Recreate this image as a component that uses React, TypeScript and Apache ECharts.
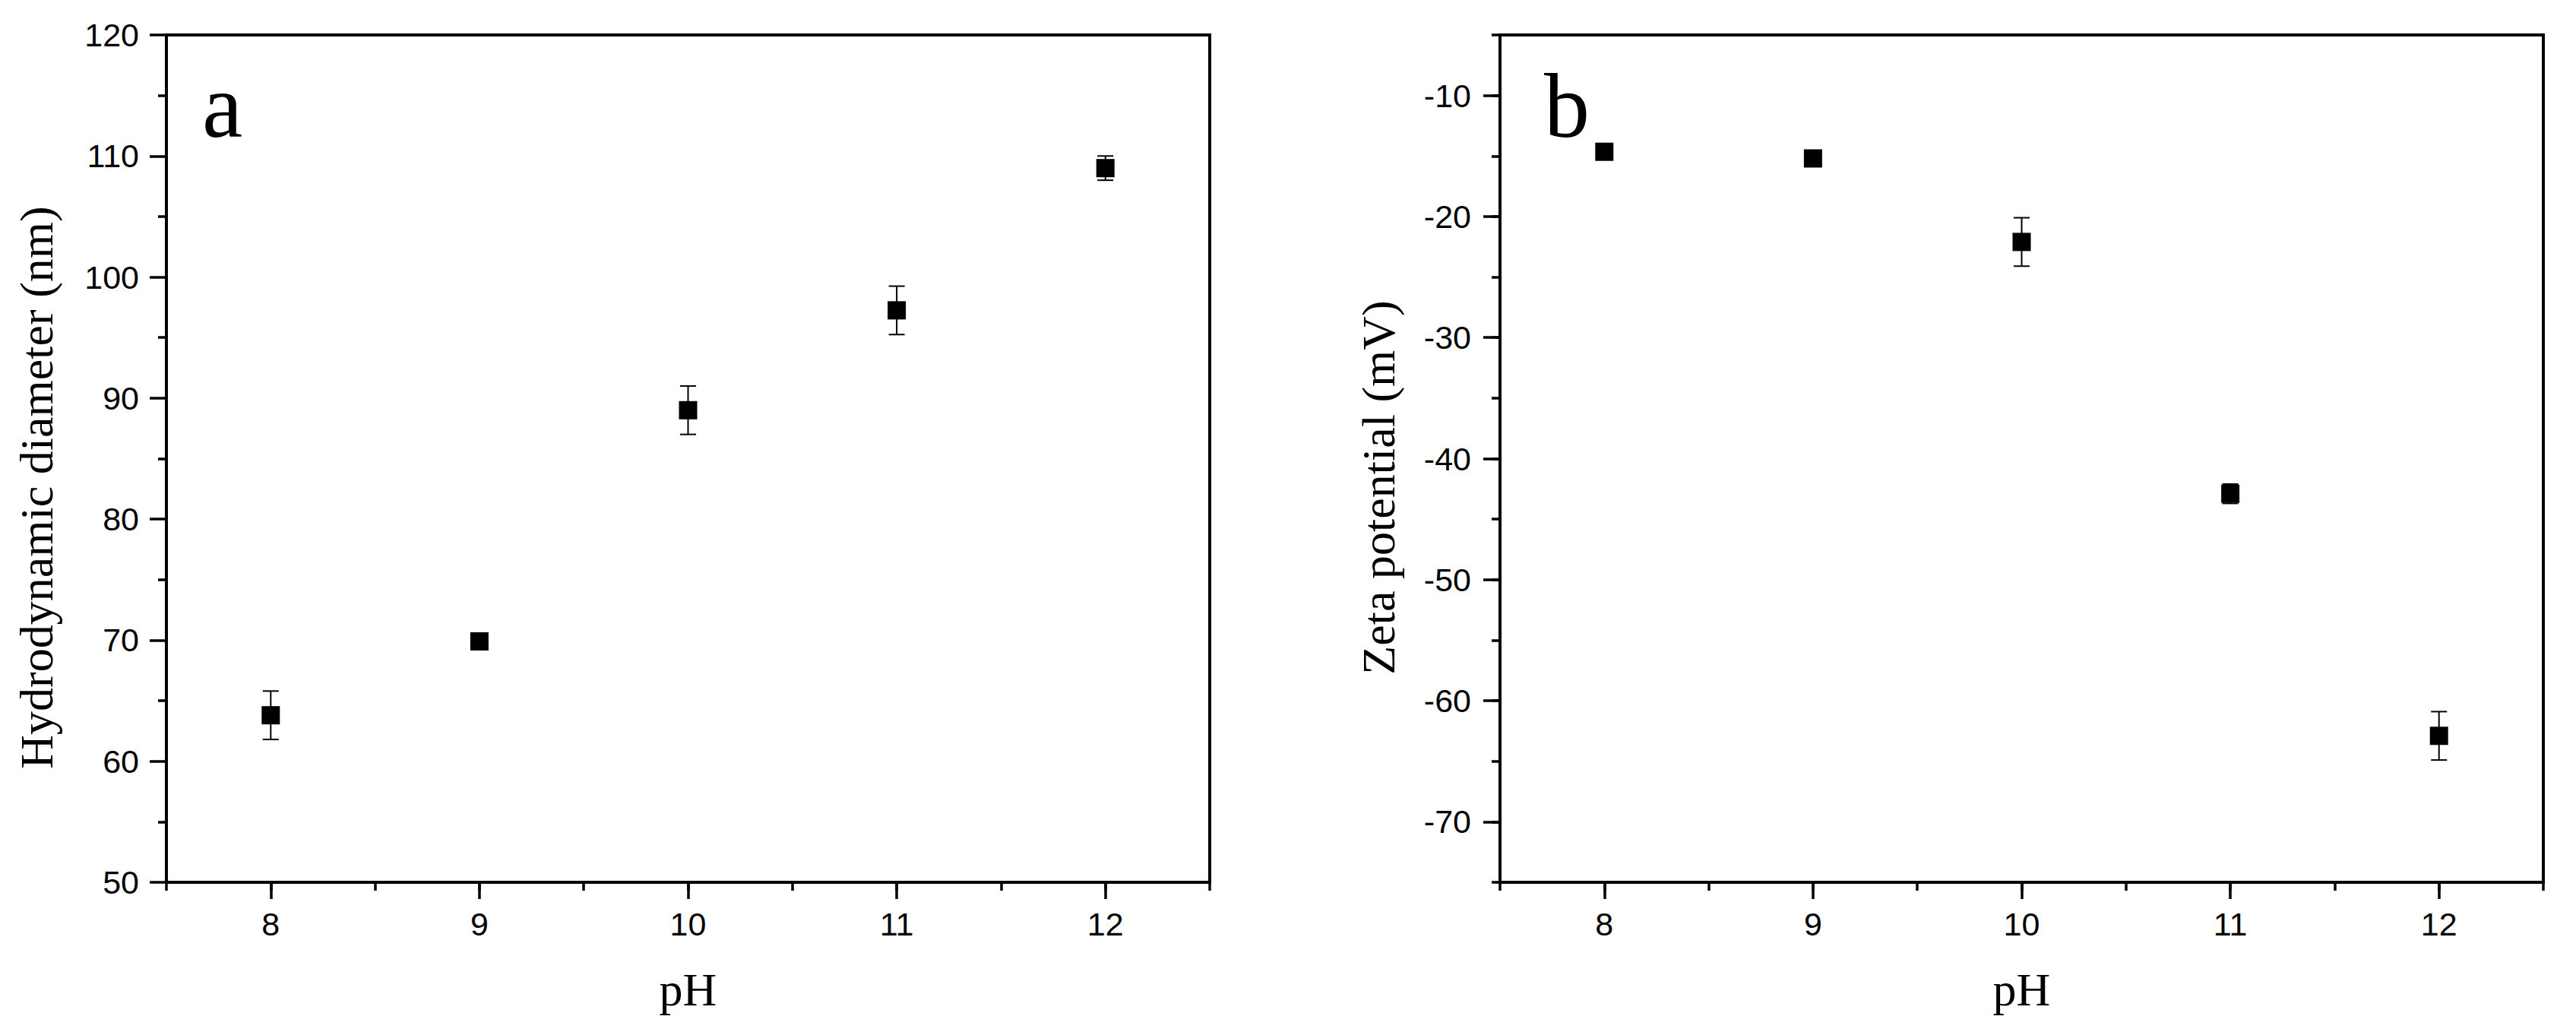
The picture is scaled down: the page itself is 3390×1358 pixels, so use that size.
import React, { useEffect, useRef } from 'react';
import * as echarts from 'echarts';

// ---- data ----
const pH = [8, 9, 10, 11, 12];
const diameter = [63.8, 69.9, 89.0, 97.25, 109.0];
const diameterErr = [2.0, 0.4, 2.0, 2.0, 1.0];
const zeta = [-14.65, -15.2, -22.1, -42.9, -62.9];
const zetaErr = [0.3, 0.3, 2.0, 0.8, 2.0];

const xTitle = 'pH';
const yTitleA = 'Hydrodynamic diameter (nm)';
const yTitleB = 'Zeta potential (mV)';
const panelLabels = ['a', 'b'];

// ---- layout ----
const W = 3390;
const H = 1358;
const LEFT_A = 219;
const LEFT_B = 1974;
const GW = 1373;
const TOP = 46;
const GH = 1115;
const X_MIN = 7.5;
const X_MAX = 12.5;
const UNIT_X = GW / (X_MAX - X_MIN);
const YB_MIN = -75;
const YB_MAX = -5;
const UNIT_YB = GH / (YB_MAX - YB_MIN);

const SANS = "'Liberation Sans', Arial, sans-serif";
const SERIF = "'Liberation Serif', 'Times New Roman', serif";
const BLACK = '#000';

const axisLineStyle = { show: true, onZero: false, lineStyle: { color: BLACK, width: 4 } };
const tickLabel = { fontFamily: SANS, fontSize: 43, color: BLACK };

function errorRender(params: any, api: any) {
  const x = api.value(0);
  const lo = api.value(1);
  const hi = api.value(2);
  const p1 = api.coord([x, lo]);
  const p2 = api.coord([x, hi]);
  const hw = 10.5;
  const style = { stroke: BLACK, lineWidth: 2, fill: null };
  return {
    type: 'group',
    children: [
      { type: 'line', shape: { x1: p1[0], y1: p1[1], x2: p2[0], y2: p2[1] }, style },
      { type: 'line', shape: { x1: p1[0] - hw, y1: p1[1], x2: p1[0] + hw, y2: p1[1] }, style },
      { type: 'line', shape: { x1: p2[0] - hw, y1: p2[1], x2: p2[0] + hw, y2: p2[1] }, style },
    ],
  };
}

export default function App() {
  const ref = useRef<HTMLDivElement>(null);
  useEffect(() => {
    if (!ref.current) return;
    const chart = echarts.init(ref.current, undefined, { renderer: 'svg', width: W, height: H });

    const grids = [
      // 0: left main
      { left: LEFT_A, top: TOP, width: GW, height: GH, show: true, borderColor: BLACK, borderWidth: 4, backgroundColor: 'transparent' },
      // 1: left x-major overlay
      { left: LEFT_A + UNIT_X * 0.5, top: TOP, width: GW - UNIT_X, height: GH },
      // 2: right main
      { left: LEFT_B, top: TOP, width: GW, height: GH, show: true, borderColor: BLACK, borderWidth: 4, backgroundColor: 'transparent' },
      // 3: right x-major overlay
      { left: LEFT_B + UNIT_X * 0.5, top: TOP, width: GW - UNIT_X, height: GH },
      // 4: right y-major overlay
      { left: LEFT_B, top: TOP + UNIT_YB * 5, width: GW, height: GH - UNIT_YB * 10 },
    ];

    const mainX = (gridIndex: number) => ({
      type: 'value', gridIndex, min: X_MIN, max: X_MAX, interval: 0.5,
      axisLine: axisLineStyle,
      axisTick: { show: true, length: 11, lineStyle: { color: BLACK, width: 3.5 } },
      axisLabel: { show: false },
      splitLine: { show: false },
    });
    const majorX = (gridIndex: number) => ({
      type: 'value', gridIndex, min: 8, max: 12, interval: 1,
      axisLine: { show: false },
      axisTick: { show: true, length: 22, lineStyle: { color: BLACK, width: 3.5 } },
      axisLabel: { ...tickLabel, margin: 33 },
      splitLine: { show: false },
      name: xTitle, nameLocation: 'middle', nameGap: 110,
      nameTextStyle: { fontFamily: SERIF, fontSize: 62, color: BLACK },
    });
    const hiddenY = (gridIndex: number) => ({ type: 'value', gridIndex, show: false, min: 0, max: 1 });

    const option: any = {
      animation: false,
      backgroundColor: '#fff',
      grid: grids,
      xAxis: [
        mainX(0),
        majorX(1),
        mainX(2),
        majorX(3),
        { type: 'value', gridIndex: 4, show: false, min: X_MIN, max: X_MAX },
      ],
      yAxis: [
        {
          type: 'value', gridIndex: 0, min: 50, max: 120, interval: 10,
          axisLine: axisLineStyle,
          axisTick: { show: true, length: 22, lineStyle: { color: BLACK, width: 3.5 } },
          minorTick: { show: true, splitNumber: 2, length: 11, lineStyle: { color: BLACK, width: 3.5 } },
          axisLabel: { ...tickLabel, margin: 36 },
          splitLine: { show: false },
          name: yTitleA, nameLocation: 'middle', nameGap: 140,
          nameTextStyle: { fontFamily: SERIF, fontSize: 62, color: BLACK, padding: [0, 76, 0, 0] },
        },
        hiddenY(1),
        {
          type: 'value', gridIndex: 2, min: YB_MIN, max: YB_MAX, interval: 5,
          axisLine: axisLineStyle,
          axisTick: { show: true, length: 11, lineStyle: { color: BLACK, width: 3.5 } },
          axisLabel: { show: false },
          splitLine: { show: false },
          name: yTitleB, nameLocation: 'middle', nameGap: 129,
          nameTextStyle: { fontFamily: SERIF, fontSize: 62, color: BLACK, padding: [0, 76, 0, 0] },
        },
        hiddenY(3),
        {
          type: 'value', gridIndex: 4, min: -70, max: -10, interval: 10,
          axisLine: { show: false },
          axisTick: { show: true, length: 22, lineStyle: { color: BLACK, width: 3.5 } },
          axisLabel: { ...tickLabel, margin: 38 },
          splitLine: { show: false },
        },
      ],
      series: [
        {
          type: 'custom', xAxisIndex: 0, yAxisIndex: 0, renderItem: errorRender, clip: false,
          encode: { x: 0, y: [1, 2] },
          data: pH.map((x, i) => [x, diameter[i] - diameterErr[i], diameter[i] + diameterErr[i]]),
          z: 3,
        },
        {
          type: 'scatter', xAxisIndex: 0, yAxisIndex: 0, symbol: 'rect', symbolSize: 24,
          itemStyle: { color: BLACK, opacity: 1 },
          data: pH.map((x, i) => [x, diameter[i]]),
          z: 4,
        },
        {
          type: 'custom', xAxisIndex: 2, yAxisIndex: 2, renderItem: errorRender, clip: false,
          encode: { x: 0, y: [1, 2] },
          data: pH.map((x, i) => [x, zeta[i] - zetaErr[i], zeta[i] + zetaErr[i]]),
          z: 3,
        },
        {
          type: 'scatter', xAxisIndex: 2, yAxisIndex: 2, symbol: 'rect', symbolSize: 24,
          itemStyle: { color: BLACK, opacity: 1 },
          data: pH.map((x, i) => [x, zeta[i]]),
          z: 4,
        },
      ],
      graphic: [
        {
          type: 'text', x: 266, y: 139,
          style: { text: panelLabels[0], fontFamily: SERIF, fontSize: 120, fill: BLACK, verticalAlign: 'middle', align: 'left' },
        },
        {
          type: 'text', x: 2032, y: 139,
          style: { text: panelLabels[1], fontFamily: SERIF, fontSize: 120, fill: BLACK, verticalAlign: 'middle', align: 'left' },
        },
      ],
    };

    chart.setOption(option);
    return () => chart.dispose();
  }, []);

  return (
    <div
      ref={ref}
      style={{ position: 'absolute', left: 0, top: 0, width: W, height: H, background: '#fff' }}
    />
  );
}
